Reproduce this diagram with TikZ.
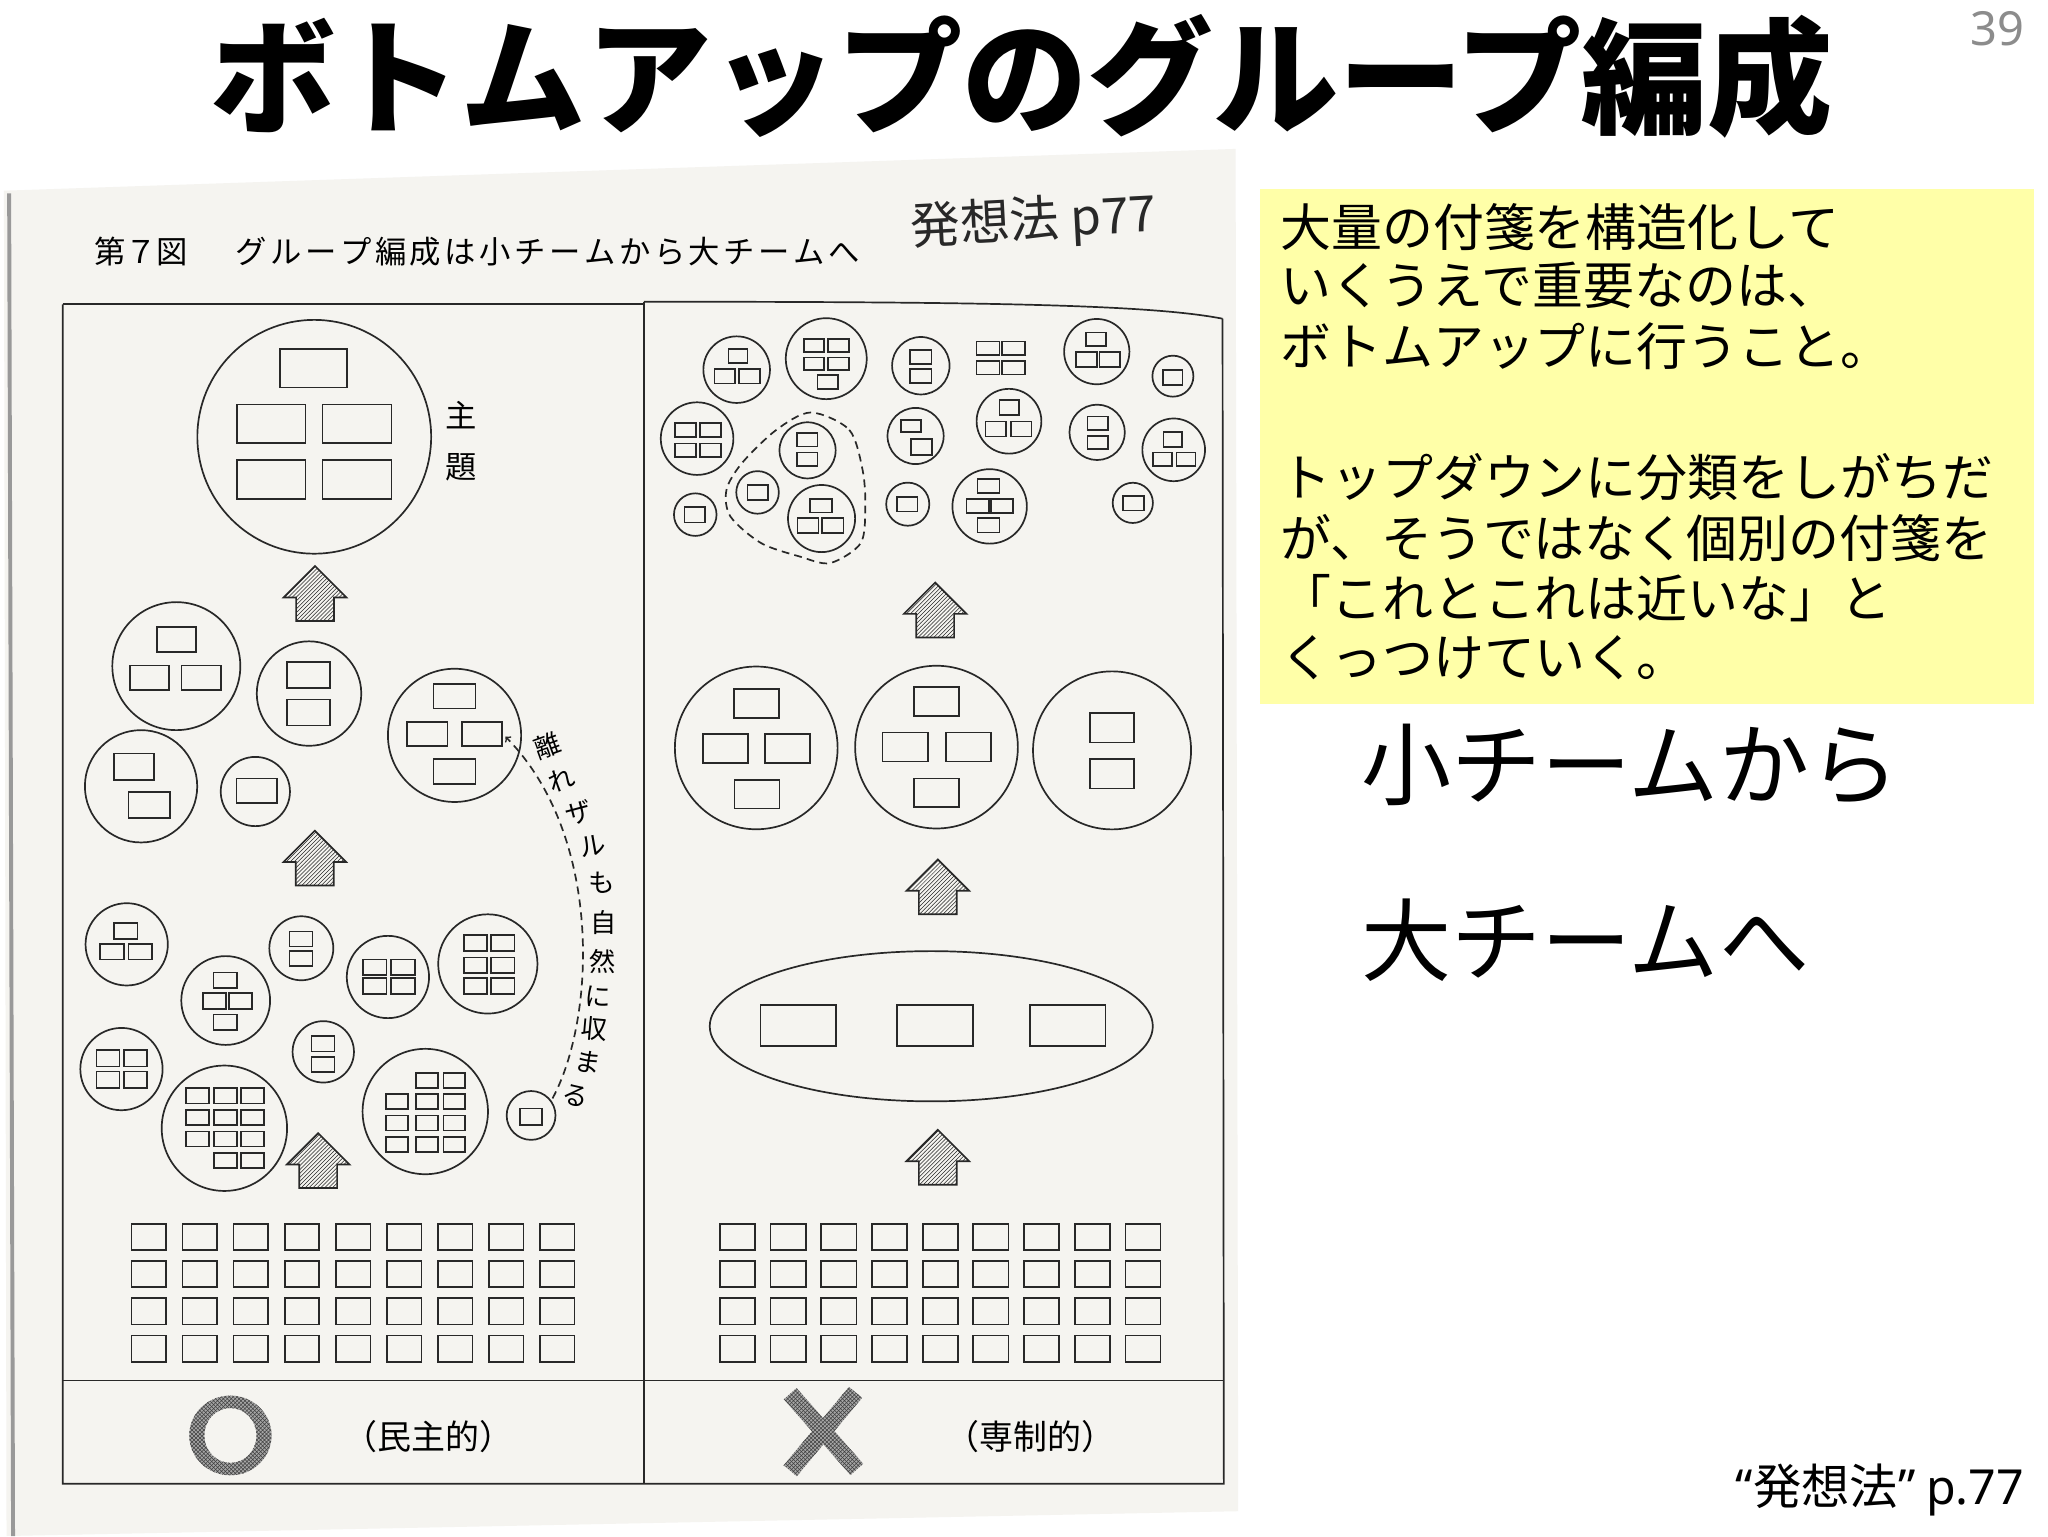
\documentclass[tikz,border=0pt]{standalone}
\usepackage{fontspec}
\setmainfont{Noto Sans CJK JP}
\newfontfamily\latinfont{Noto Sans}
\usetikzlibrary{patterns}
\definecolor{paper}{RGB}{245,244,240}
\definecolor{notepad}{RGB}{255,255,168}
\definecolor{ink}{RGB}{40,40,40}
\tikzset{ scanline/.style={draw=ink,line width=1.3pt},
  upbox/.style={draw=ink,line width=1.3pt,pattern=north east lines,pattern color=ink},
  screentone/.style={fill=black!35,postaction={pattern=crosshatch,pattern color=black!75}},
  label/.style={inner sep=0pt,anchor=base} }
\newcommand{\card}[4]{\draw[scanline] (#1,#2) ++(-#3/2,-#4/2) rectangle ++(#3,#4);}
\newcommand{\team}[3]{\draw[scanline] (#1,#2) circle[radius=#3];}
\newcommand{\hatchup}[2]{\draw[upbox] (#1,#2) -- ++(24,24) -- ++(-9.5,0) -- ++(0,18) -- ++(-29,0) -- ++(0,-18) -- ++(-9.5,0) -- cycle;}
\newcommand{\fs}[1]{\fontsize{#1}{#1}\selectfont}

\begin{document}
\begin{tikzpicture}[x=1pt,y=-1pt]
  \useasboundingbox (0,0) rectangle (1568,1176);
  \fill[white] (0,0) rectangle (1568,1176);
  \node[label,font=\bfseries\fs{96}] (title) at (782,95) {ボトムアップのグループ編成};
  \node[label,anchor=base east,font=\latinfont\fs{36},text=black!45] (pagenum) at (1550,35) {39};

  % scanned page
  \fill[paper] (3,146) -- (946,114) -- (948,1157) -- (5,1176) -- cycle;
  \draw[black!40,line width=3pt] (7,148) -- (10,1176);
  \node[label,anchor=base west,font=\fs{24}] (fig7) at (72,202) {第７図};
  \foreach \c [count=\k] in {グ,ル,ー,プ,編,成,は,小,チ,ー,ム,か,ら,大,チ,ー,ム,へ}
    \node[label,font=\fs{24}] (cap\k) at (165.65+26.7*\k,202) {\c};
  \node[label,font=\fs{38},text=ink,rotate=3] (memo) at (792,182) {発想法 p77};

  \draw[scanline] (48,233) -- (493,233);
  \draw[scanline] (493,231) .. controls (750,231) and (880,233) .. (936,244);
  \draw[scanline] (48,233) -- (48,1136) -- (937,1136) -- (936,244);
  \draw[scanline] (493,231) -- (493,1136);
  \draw[scanline] (48,1057) -- (937,1057);

  % left: bottom-up
  \team{240.6}{334.4}{89.5}
  \card{240.1}{281.9}{51.5}{29.4}
  \card{207.6}{324.5}{52.8}{29.8} \card{273.4}{324.5}{52.8}{29.8}
  \card{207.6}{367.3}{52.8}{29.8} \card{273.4}{367.3}{52.8}{29.8}
  \node[label,font=\fs{24}] (theme1) at (353,327) {主};
  \node[label,font=\fs{24}] (theme2) at (353,366) {題};
  \hatchup{241.2}{433.4}
  \team{135}{510}{49} \card{135}{489.5}{30}{19} \card{114.5}{519}{30}{19} \card{154}{519}{30}{19}
  \team{236.6}{531}{40} \card{236}{516.6}{33}{20} \card{236}{545.5}{33}{20}
  \team{108}{602}{43} \card{102.7}{587}{30.5}{20} \card{114.2}{616.5}{31.6}{20}
  \team{195.5}{606}{26.5} \card{196.5}{605.5}{31}{19}
  \team{348}{563}{51} \card{348}{533}{32}{19} \card{327}{562}{31}{18.5} \card{369}{562}{31}{18.5} \card{348}{590.5}{32}{19}
  \hatchup{241}{636}
  \team{97}{723}{31.5} \card{96.3}{712.7}{18}{12} \card{85.8}{728.5}{18}{12} \card{107.4}{728.5}{18}{12}
  \team{230.7}{726}{24.5} \card{230.5}{719}{17.6}{11.5} \card{230.5}{734}{17.6}{11.5}
  \team{297}{748}{31.5}
  \foreach \cx in {287,308.5} \foreach \cy in {740.7,755} { \card{\cx}{\cy}{18}{12} }
  \team{373.5}{738}{38}
  \foreach \cx in {364,385} \foreach \cy in {722,739,755} { \card{\cx}{\cy}{18}{12} }
  \team{172.8}{766}{34} \card{172.5}{750.5}{18}{12} \card{164.2}{766.5}{18}{12} \card{184.2}{766.5}{18}{12} \card{172.5}{782.7}{18}{12}
  \team{247.5}{805.3}{23.5} \card{247.3}{799}{17.5}{12} \card{247.3}{815}{17.5}{12}
  \team{93}{818.5}{31.5}
  \foreach \cx in {82.6,103.7} \foreach \cy in {810.2,826.6} { \card{\cx}{\cy}{17.6}{12.6} }
  \team{171.8}{863.8}{48}
  \foreach \cx in {151.4,172.5,193.4} \foreach \cy in {839,855.5,872} { \card{\cx}{\cy}{17.6}{11.5} }
  \card{172.5}{888.7}{17.6}{11.5} \card{193.4}{888.7}{17.6}{11.5}
  \team{325.6}{851}{48}
  \card{327}{827.5}{16.7}{11.5} \card{347.9}{827.5}{16.7}{11.5}
  \foreach \cx in {304,327,347.9} \foreach \cy in {843.5,859.8,876} { \card{\cx}{\cy}{16.7}{11.5} }
  \team{406.6}{854}{18.7} \card{406.4}{855}{16.8}{12.8}
  \draw[scanline,dash pattern=on 6pt off 4pt,->] (423,841) .. controls (456,780) and (462,640) .. (387,564);
  \foreach \c/\px/\py/\rot [count=\k] in {離/419/571/20,れ/430/597/20,ザ/443/622/15,ル/454/648/10,も/461/676/5,自/462/706/0,然/461/736/0,に/458/763/-3,収/455/788/-5,ま/450/813/-10,る/441/839/-15}
    \node[inner sep=0pt,font=\fs{20},rotate=\rot] (stray\k) at (\px,\py) {\c};
  \hatchup{243.6}{867.6}
  \foreach \i in {0,...,8} \foreach \j in {0,...,3} { \card{113.9+39.1*\i}{947+28.5*\j}{26.5}{20} }

  % right: top-down
  \team{564}{283}{25.5} \card{565}{272.7}{14.7}{10.6} \card{555}{288}{15.8}{11} \card{573.8}{288}{15.8}{11}
  \team{632.6}{274.6}{31}
  \foreach \cx in {623.2,642} \foreach \cy in {264.5,278.5} { \card{\cx}{\cy}{15.8}{9.8} }
  \card{633.7}{292.5}{15.4}{11}
  \team{705}{280}{22} \card{705}{273.3}{16.3}{10.6} \card{705}{287.7}{16.3}{10.6}
  \foreach \cx in {756.4,776} \foreach \cy in {266.6,281.5} { \card{\cx}{\cy}{17.5}{10.5} }
  \team{839.7}{269.2}{25} \card{839}{259.7}{15.3}{10.2} \card{831.8}{275}{16}{11.5} \card{849.7}{275}{16}{11.5}
  \team{898}{288}{15.7} \card{898}{289}{14.7}{11.7}
  \team{533.7}{335.8}{27.8}
  \foreach \cx in {524.7,543.8} \foreach \cy in {329.1,344.7} { \card{\cx}{\cy}{16.2}{10.5} }
  \team{618.3}{344.8}{21.5} \card{618.2}{336.8}{15.5}{10.2} \card{618.2}{351.5}{15.5}{10.2}
  \team{580}{377}{16.3} \card{580.2}{377}{15.6}{11.5}
  \team{629}{397}{25.7} \card{628.6}{387.2}{16.8}{10.3} \card{618.6}{402.3}{16.2}{11.3} \card{637.7}{402.3}{16.2}{11.3}
  \draw[scanline,dash pattern=on 6pt off 4pt] plot[smooth cycle] coordinates {(620.8,315.8) (650.2,329.1) (660.4,359.7) (662.5,387.8) (659,415.8) (635.5,431.1) (612,426) (582.7,415.8) (559.2,395.4) (556.2,375) (568,354.6) (594.4,329.1)};
  \team{532.3}{394}{16.3} \card{532}{394}{16}{12}
  \team{701}{333.8}{21.5} \card{697.5}{326.2}{15.5}{9.5} \card{705.5}{342.2}{15.6}{12}
  \team{772.5}{322.5}{24.8} \card{772.6}{311.8}{14.8}{11.6} \card{762.4}{328.4}{16}{11.5} \card{781.8}{328.4}{16}{11.5}
  \team{840}{331}{21.2} \card{840.5}{324}{15.6}{10.2} \card{840.5}{338.8}{15.6}{10.2}
  \team{898.6}{344.4}{24} \card{898}{336.5}{14.2}{11} \card{890}{351.7}{14.5}{10.6} \card{908}{351.7}{14.5}{10.6}
  \team{695}{386}{16.5} \card{694.6}{386}{15.6}{11}
  \team{757.7}{387.7}{28.5} \card{756.8}{372.2}{16.7}{10.8} \card{748.5}{387.5}{17}{11} \card{767}{387.5}{17}{11} \card{756.8}{402.2}{16.7}{11}
  \team{867.3}{385}{15.4} \card{868}{385.4}{16}{10.8}
  \hatchup{716}{446}
  \team{579}{572.6}{62.3} \card{579.2}{538.5}{34.5}{22} \card{555.5}{573}{34.5}{22} \card{603}{573}{34.5}{22} \card{579.6}{608}{34.5}{22}
  \team{717}{572}{62.3} \card{716.8}{537}{34.5}{22} \card{693}{571.9}{34.5}{22} \card{741.7}{571.9}{34.5}{22} \card{717}{607}{34.5}{22}
  \team{851.4}{574.5}{60.5} \card{851.4}{557.2}{33.6}{22.5} \card{851.4}{592.4}{33.6}{22.5}
  \hatchup{718}{658}
  \draw[scanline] (713,785.7) circle[x radius=169.6,y radius=57.5];
  \foreach \cx in {611.2,716,817.4} { \card{\cx}{785.2}{58}{31} }
  \hatchup{718}{865}
  \foreach \i in {0,...,8} \foreach \j in {0,...,3} { \card{564.7+38.8*\i}{947+28.5*\j}{27}{20} }

  % verdicts
  \path[screentone,even odd rule] (176.4,1099) circle[x radius=31.5,y radius=30.5] circle[x radius=20,y radius=21];
  \node[label,font=\fs{26}] (demo) at (328,1110) {（民主的）};
  \path[screentone] (609.9,1062.7) -- (660.9,1120.7) -- (651.1,1129.3) -- (600.1,1071.3) -- cycle;
  \path[screentone] (660,1070.2) -- (610,1130.2) -- (600,1121.8) -- (650,1061.8) -- cycle;
  \node[label,font=\fs{26}] (auto) at (789,1110) {（専制的）};

  % notes
  \fill[notepad] (965,145) rectangle (1557,539);
  \foreach \t/\yy [count=\k] in {大量の付箋を構造化して/189,いくうえで重要なのは、/233,ボトムアップに行うこと。/280,トップダウンに分類をしがちだ/380.5,が、そうではなく個別の付箋を/427,「これとこれは近いな」と/473,くっつけていく。/518}
    \node[label,anchor=base west,font=\fs{39}] (note\k) at (980,\yy) {\t};
  \node[label,anchor=base west,font=\fs{69}] (small) at (1042,611) {小チームから};
  \node[label,anchor=base west,font=\fs{69}] (large) at (1042,746) {大チームへ};
  \node[label,anchor=base east,font=\fs{37}] (source) at (1550,1152) {{\latinfont “}発想法{\latinfont ”} {\latinfont p.77}};
\end{tikzpicture}
\end{document}
